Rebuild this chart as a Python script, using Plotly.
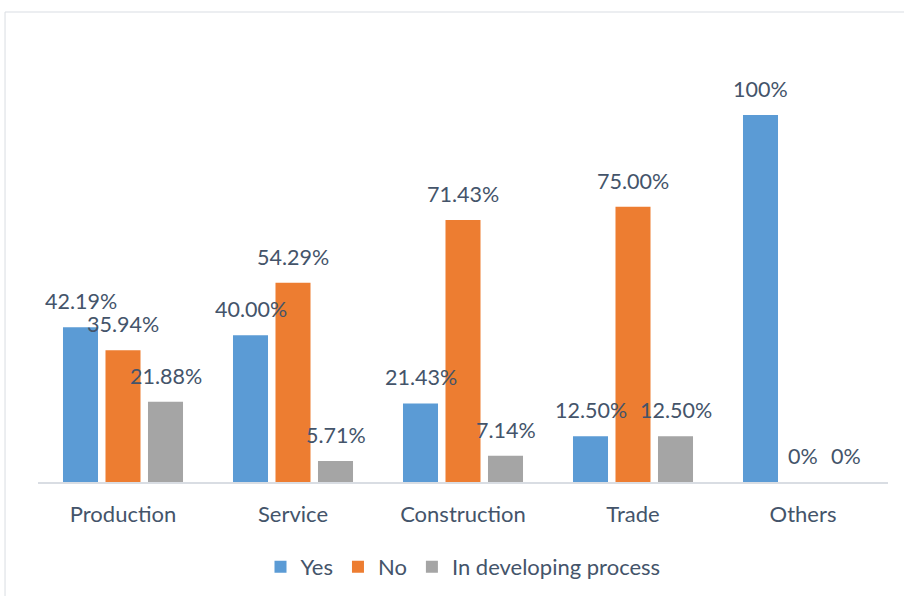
import plotly.graph_objects as go

# Sector categories and response shares (%)
categories = ["Production", "Service", "Construction", "Trade", "Others"]
yes_vals = [42.19, 40.00, 21.43, 12.50, 100]
no_vals = [35.94, 54.29, 71.43, 75.00, 0]
dev_vals = [21.88, 5.71, 7.14, 12.50, 0]
yes_labels = ["42.19%", "40.00%", "21.43%", "12.50%", "100%"]
no_labels = ["35.94%", "54.29%", "71.43%", "75.00%", "0%"]
dev_labels = ["21.88%", "5.71%", "7.14%", "12.50%", "0%"]

series = [
    ("Yes", yes_vals, yes_labels, "#5B9BD5"),
    ("No", no_vals, no_labels, "#ED7D31"),
    ("In developing process", dev_vals, dev_labels, "#A5A5A5"),
]

FONT = "Lato, 'Open Sans', sans-serif"
TEXT_COLOR = "#44546A"

fig = go.Figure()
annotations = []
for i, (name, vals, labels, color) in enumerate(series):
    fig.add_trace(go.Bar(
        x=categories, y=vals, name=name,
        marker=dict(color=color, line=dict(width=0)),
    ))
    # value labels centred over each bar of the group
    for cat, v, lab in zip(categories, vals, labels):
        annotations.append(dict(
            x=cat, y=v, xref="x", yref="y", text=lab, showarrow=False,
            xshift=(i - 1) * 42.5, yshift=26, yanchor="middle",
            font=dict(family=FONT, size=21.5, color=TEXT_COLOR),
        ))

fig.update_layout(
    width=904, height=596,
    margin=dict(l=38, r=16, t=30, b=114, autoexpand=False),
    paper_bgcolor="white", plot_bgcolor="white",
    barmode="group", bargap=0.25, bargroupgap=0.176,
    font=dict(family=FONT, size=22, color=TEXT_COLOR),
    showlegend=True,
    legend=dict(orientation="h", x=0.5, xanchor="center", y=-0.188, yanchor="middle",
                font=dict(family=FONT, size=22, color=TEXT_COLOR),
                itemwidth=30, traceorder="normal"),
    annotations=annotations,
    shapes=[dict(type="rect", xref="paper", yref="paper",
                 x0=-0.0388, x1=1.05, y0=-0.3, y1=1.0398,
                 line=dict(color="#D9DDE3", width=1), fillcolor="rgba(0,0,0,0)",
                 layer="below")],
)
fig.update_xaxes(showline=True, linecolor="#D9DDE3", linewidth=1.5, showgrid=False,
                 ticks="", ticklabelstandoff=12, automargin=False,
                 tickfont=dict(family=FONT, size=22, color=TEXT_COLOR))
fig.update_yaxes(range=[0, 123.2], visible=False, showgrid=False, zeroline=False)

fig.write_html("out.html")
